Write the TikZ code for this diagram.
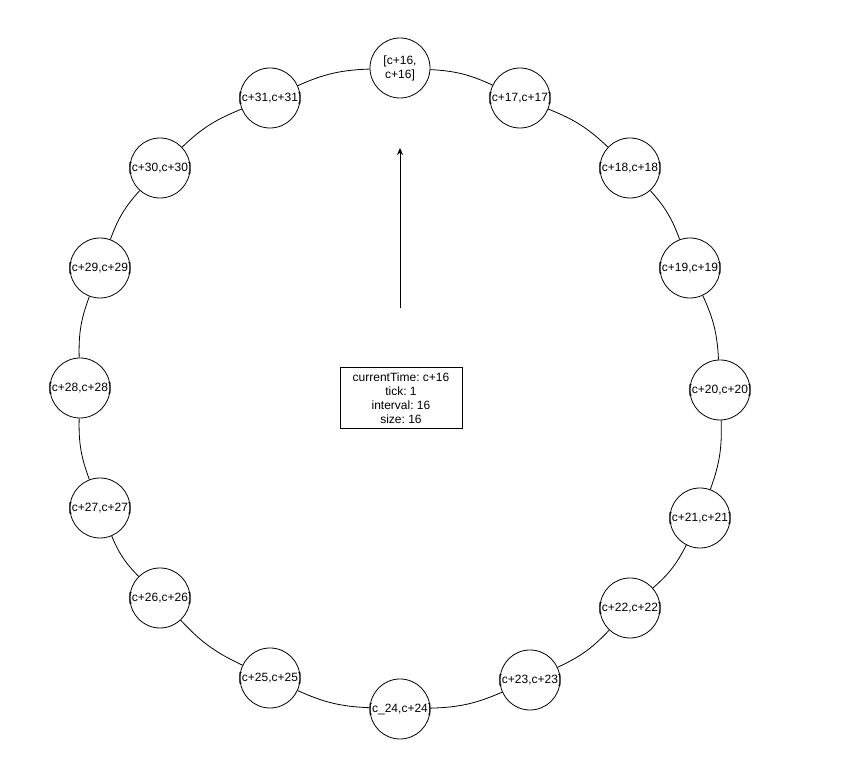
\documentclass[tikz,border=0pt]{standalone}
\usepackage{fontspec}
\setmainfont{Liberation Sans}
\usetikzlibrary{arrows.meta}
\frenchspacing

\tikzset{
    slot/.style={circle, draw, line width=0.8pt, minimum size=60pt, inner sep=0pt},
    ring/.style={line width=0.8pt, bend left=11}
}

\begin{document}
\begin{tikzpicture}[x=1pt, y=1pt, font=\fontsize{12}{14}\selectfont]
        \useasboundingbox (0,0) rectangle (852,771);

        \node[slot, align=center] (16) at (400, 703) {[c+16,\\c+16]};
        \node[slot] (17) at (520, 673) {\makebox[0pt]{[c+17,c+17]}};
        \node[slot] (18) at (630, 603) {\makebox[0pt]{[c+18,c+18]}};
        \node[slot] (19) at (690, 503) {\makebox[0pt]{[c+19,c+19]}};
        \node[slot] (20) at (720, 381) {\makebox[0pt]{[c+20,c+20]}};
        \node[slot] (21) at (700, 253) {\makebox[0pt]{[c+21,c+21]}};
        \node[slot] (22) at (630, 163) {\makebox[0pt]{[c+22,c+22]}};
        \node[slot] (23) at (530, 91) {\makebox[0pt]{[c+23,c+23]}};
        \node[slot] (24) at (400, 62) {\makebox[0pt]{[c\_24,c+24]}};
        \node[slot] (25) at (270, 93) {\makebox[0pt]{[c+25,c+25]}};
        \node[slot] (26) at (160, 173) {\makebox[0pt]{[c+26,c+26]}};
        \node[slot] (27) at (100, 263) {\makebox[0pt]{[c+27,c+27]}};
        \node[slot] (28) at (80, 383) {\makebox[0pt]{[c+28,c+28]}};
        \node[slot] (29) at (100, 503) {\makebox[0pt]{[c+29,c+29]}};
        \node[slot] (30) at (160, 603) {\makebox[0pt]{[c+30,c+30]}};
        \node[slot] (31) at (270, 673) {\makebox[0pt]{[c+31,c+31]}};

        \node[draw, line width=0.8pt, align=center, minimum width=122pt, minimum height=61pt, inner sep=0pt] (state) at (401, 373)
            {currentTime: c+16\\tick: 1\\interval: 16\\size: 16};

        \coordinate (tail) at (400, 463);
        \coordinate (head) at (400, 623);
        \draw[line width=0.8pt, -{Stealth[length=7pt, width=6pt]}] (tail) -- (head);

        \draw (16) edge[ring] (17);
        \draw (17) edge[ring] (18);
        \draw (18) edge[ring] (19);
        \draw (19) edge[ring] (20);
        \draw (20) edge[ring] (21);
        \draw (21) edge[ring] (22);
        \draw (22) edge[ring] (23);
        \draw (23) edge[ring] (24);
        \draw (24) edge[ring] (25);
        \draw (25) edge[ring] (26);
        \draw (26) edge[ring] (27);
        \draw (27) edge[ring] (28);
        \draw (28) edge[ring] (29);
        \draw (29) edge[ring] (30);
        \draw (30) edge[ring] (31);
        \draw (31) edge[ring] (16);
    \end{tikzpicture}
\end{document}
